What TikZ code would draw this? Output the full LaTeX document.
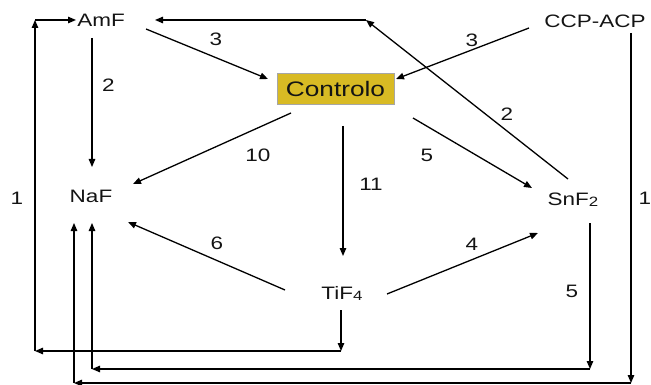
\documentclass[tikz,border=0pt]{standalone}
\usepackage{fontspec}
\setmainfont[FakeStretch=1.25]{Liberation Sans}
\usetikzlibrary{arrows.meta}
\definecolor{gold}{RGB}{216,186,36}
\definecolor{ink}{RGB}{20,20,20}
\tikzset{
  lbl/.style={inner sep=0pt, font=\fontsize{18}{20}\selectfont, text=ink},
  compound/.style={inner sep=0pt, anchor=base, font=\fontsize{18}{20}\selectfont, text=ink},
  arr/.style={line width=1.3pt, -{Triangle[length=8pt,width=6.5pt]}},
}
\newcommand{\subidx}[1]{\raisebox{-1.5pt}{\fontsize{13.5}{14}\selectfont #1}}

\begin{document}
\begin{tikzpicture}[x=1pt,y=-1pt]
\useasboundingbox (0,0) rectangle (651,385);

% compounds
\node[compound] (A) at (101,27) {AmF};
\node[compound] (C) at (595,28) {CCP-ACP};
\node[compound] (N) at (91,202) {NaF};
\node[compound] (S) at (573,205.5) {SnF\subidx{2}};
\node[compound] (T) at (342,299) {TiF\subidx{4}};
\node[draw=black!35, line width=0.4pt, fill=gold, minimum width=117pt,
      minimum height=31pt, inner sep=0pt, text=ink,
      font=\fontsize{21}{22}\selectfont] (K) at (335.5,88.5) {Controlo};

% bends of the routed connectors
\coordinate (jt) at (366,20);
\coordinate (tb) at (341,351);
\coordinate (lb) at (35,351);
\coordinate (lt) at (35,20);
\coordinate (sb) at (590,369);
\coordinate (nb) at (92,369);
\coordinate (cb) at (631,383);
\coordinate (nc) at (74,383);

% direct connectors
\draw[arr] ([shift={(45,2)}]A.base) -- ([shift={(-67.5,-9.5)}]K.center);
\draw[arr] ([shift={(-66,0)}]C.base) -- ([shift={(60.5,-9.5)}]K.center);
\draw[arr] ([shift={(-5,-26.5)}]S.base) -- (jt);
\draw[arr] (jt) -- ([shift={(54,-7)}]A.base);
\draw[arr] ([shift={(-9,11)}]A.base) -- ([shift={(1,-35)}]N.base);
\draw[arr] ([shift={(-44.5,24.5)}]K.center) -- ([shift={(42,-18)}]N.base);
\draw[arr] ([shift={(7.5,37.5)}]K.center) -- ([shift={(1,-43)}]T.base);
\draw[arr] ([shift={(77.5,29.5)}]K.center) -- ([shift={(-41,-17.5)}]S.base);
\draw[arr] ([shift={(-57,-9)}]T.base) -- ([shift={(37,20)}]N.base);
\draw[arr] ([shift={(45,-5)}]T.base) -- ([shift={(-35,27.5)}]S.base);

% TiF4 -> AmF around the left side
\draw[arr] ([shift={(-1,11)}]T.base) -- (tb);
\draw[arr] (tb) -- (lb);
\draw[arr] (lb) -- (lt);
\draw[arr] (lt) -- ([shift={(-25,-7)}]A.base);

% SnF2 -> NaF along the bottom
\draw[arr] ([shift={(17,17.5)}]S.base) -- (sb);
\draw[arr] (sb) -- (nb);
\draw[arr] (nb) -- ([shift={(1,21)}]N.base);

% CCP-ACP -> NaF along the right side and the bottom
\draw[arr] ([shift={(36,5)}]C.base) -- (cb);
\draw[arr] (cb) -- (nc);
\draw[arr] (nc) -- ([shift={(-17,21)}]N.base);

% edge weights
\node[lbl] (w1) at (216,39) {3};
\node[lbl] (w2) at (472,40) {3};
\node[lbl] (w3) at (507,114.5) {2};
\node[lbl] (w4) at (108.5,85.5) {2};
\node[lbl] (w5) at (258,155) {10};
\node[lbl] (w6) at (371,184) {11};
\node[lbl] (w7) at (427,155) {5};
\node[lbl] (w8) at (217,243) {6};
\node[lbl] (w9) at (472,244) {4};
\node[lbl] (w10) at (572,291) {5};
\node[lbl] (w11) at (17,198) {1};
\node[lbl] (w12) at (645,198) {1};
\end{tikzpicture}
\end{document}
